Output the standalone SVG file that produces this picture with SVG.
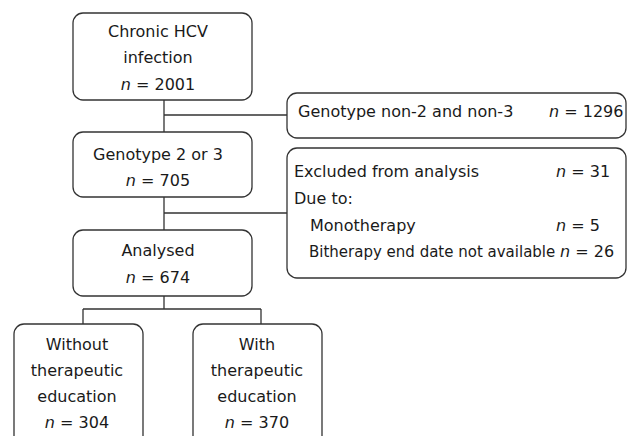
<svg xmlns="http://www.w3.org/2000/svg" width="628" height="436" viewBox="0 0 628 436">
<style>
.box{fill:#fff;stroke:#333;stroke-width:1.3}
.ln{fill:none;stroke:#333;stroke-width:1.3}
text{font-family:"DejaVu Sans",Verdana,sans-serif;font-size:16px;fill:#1a1a1a}
.c{text-anchor:middle}
.i{font-style:italic}
.s{font-size:15px}
</style>
<rect width="628" height="436" fill="#fff"/>
<g id="connectors">
<path class="ln" d="M164 100V132M164 115H287M164 197V230M164 213H287M164 296V309M83 309H261M83 309V324M261 309V324"/>
</g>
<g id="n1">
<rect class="box" x="73" y="13" width="179" height="87" rx="10"/>
<text class="c" x="158" y="37">Chronic HCV</text>
<text class="c" x="158" y="63">infection</text>
<text class="c" x="158" y="90"><tspan class="i">n</tspan> = 2001</text>
</g>
<g id="n2">
<rect class="box" x="73" y="132" width="179" height="65" rx="10"/>
<text class="c" x="158" y="160">Genotype 2 or 3</text>
<text class="c" x="158" y="186"><tspan class="i">n</tspan> = 705</text>
</g>
<g id="n3">
<rect class="box" x="73" y="230" width="179" height="66" rx="10"/>
<text class="c" x="158" y="256">Analysed</text>
<text class="c" x="158" y="283"><tspan class="i">n</tspan> = 674</text>
</g>
<g id="n4">
<rect class="box" x="287" y="93" width="339" height="45" rx="10"/>
<text x="298" y="117">Genotype non-2 and non-3</text>
<text x="549" y="117"><tspan class="i">n</tspan> = 1296</text>
</g>
<g id="n5">
<rect class="box" x="287" y="148" width="339" height="130" rx="10"/>
<text x="294" y="177">Excluded from analysis</text>
<text x="556" y="177"><tspan class="i">n</tspan> = 31</text>
<text x="294" y="204">Due to:</text>
<text x="310" y="231">Monotherapy</text>
<text x="556" y="231"><tspan class="i">n</tspan> = 5</text>
<text class="s" x="309" y="257">Bitherapy end date not available</text>
<text x="560" y="257"><tspan class="i">n</tspan> = 26</text>
</g>
<g id="n6">
<rect class="box" x="14" y="324" width="129" height="130" rx="10"/>
<text class="c" x="77" y="350">Without</text>
<text class="c" x="77" y="376">therapeutic</text>
<text class="c" x="77" y="402">education</text>
<text class="c" x="77" y="428"><tspan class="i">n</tspan> = 304</text>
</g>
<g id="n7">
<rect class="box" x="193" y="324" width="129" height="130" rx="10"/>
<text class="c" x="257" y="350">With</text>
<text class="c" x="257" y="376">therapeutic</text>
<text class="c" x="257" y="402">education</text>
<text class="c" x="257" y="428"><tspan class="i">n</tspan> = 370</text>
</g>
</svg>
